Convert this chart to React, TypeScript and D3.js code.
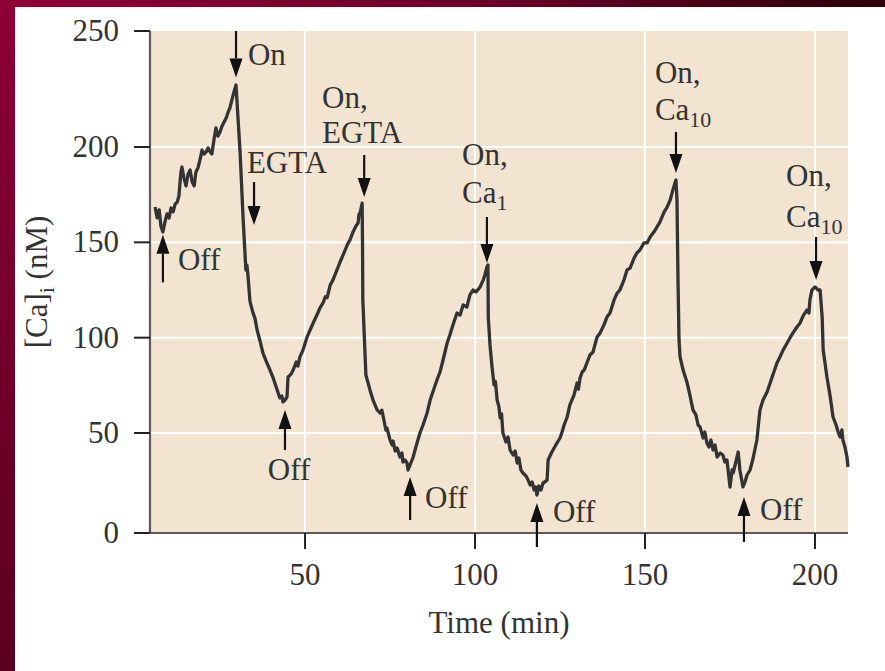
import React from 'react'
import * as d3 from 'd3'

// [Ca]i trace, time (min) / concentration (nM)
const cycleA: [number, number][] = [
  [5.9, 168.5], [6.5, 162.8], [7.1, 167.0], [7.6, 158.6], [8.2, 155.4], [8.8, 160.7], [9.4, 164.9],
  [10.0, 162.8], [10.6, 168.0], [11.2, 166.0], [11.8, 170.1], [12.4, 171.1], [12.9, 174.3], [13.5, 186.9],
  [13.8, 189.5], [14.4, 183.7], [15.0, 179.6], [15.6, 185.8], [16.2, 187.9], [16.8, 181.6], [17.4, 179.6],
  [17.9, 186.9], [18.5, 189.0], [19.1, 193.2], [19.7, 198.4], [20.3, 196.3], [20.9, 197.4], [21.5, 199.5],
  [22.1, 197.4], [22.6, 196.3], [23.2, 203.0], [23.8, 208.2], [24.4, 204.7], [25.0, 206.5], [25.6, 209.1],
  [26.2, 210.8], [26.8, 212.5], [27.4, 215.1], [27.9, 216.8], [28.5, 220.3], [29.1, 223.7], [29.7, 226.7],
]

const cycleB: [number, number][] = [
  [30.9, 197], [31.8, 162], [32.6, 135.5], [32.9, 138], [33.2, 133], [33.8, 119], [34.4, 115], [34.7, 113],
  [35.3, 110], [35.9, 104], [36.8, 98], [37.6, 92], [38.5, 88], [39.7, 83], [40.6, 79], [41.8, 72.6],
  [42.6, 68.4], [43.2, 69.4], [43.5, 66.3], [44.1, 67.3], [44.7, 68.9], [45.0, 79.4], [45.9, 80.9],
  [46.5, 83.0], [47.4, 87.2], [47.9, 85.1], [48.5, 89.9], [49.4, 93.5], [50.6, 100.4], [51.5, 104.0],
  [52.4, 107.7], [53.5, 111.9], [54.4, 115.6], [55.3, 118.2], [56.0, 121.5], [56.5, 121.0], [57.4, 127.6],
  [58.2, 130.2], [59.4, 135.5], [60.3, 139.7], [61.2, 143.4], [62.4, 148.6], [63.2, 151.2], [64.1, 155.4],
  [65.0, 158.6], [65.6, 160.1], [65.9, 164.9], [66.2, 165.4], [66.8, 170.6],
]

const cycleC: [number, number][] = [
  [66.9, 151], [67.0, 120], [67.6, 93.5], [67.9, 80.4], [69.1, 72.6], [70.0, 67.3], [71.2, 62.1],
  [72.1, 60.5], [72.6, 62], [73.2, 56.8], [73.8, 51.5], [74.1, 52.6], [75.0, 46.5], [75.6, 44], [75.9, 46],
  [76.5, 41], [77.1, 42.5], [77.9, 38], [78.5, 40], [78.8, 35.5], [79.4, 36.5], [80.0, 35], [80.3, 31.5],
  [80.9, 34], [81.8, 38], [82.6, 43], [83.8, 50], [84.7, 54.2], [85.9, 60.5], [86.8, 67.3], [87.6, 71.5],
  [88.8, 77.8], [89.7, 82.0], [90.6, 88.3], [91.8, 97.2], [92.6, 101.4], [93.5, 106.6], [94.7, 112.9],
  [95.6, 111.9], [96.5, 117.1], [97.6, 116.1], [98.5, 122.4], [99.4, 125.0], [100.3, 124.0], [101.5, 126.6],
  [102.4, 130.2], [102.9, 132.9], [103.5, 137.1], [103.8, 138.1],
]

const cycleD: [number, number][] = [
  [103.9, 110.8], [104.4, 96.2], [105.0, 84.6], [105.6, 75.2], [106.0, 77], [106.5, 67.3], [107.0, 64],
  [107.4, 57.9], [107.8, 60], [108.2, 50], [109.1, 45.5], [109.7, 48], [110.3, 41.5], [111.2, 39],
  [111.8, 41], [112.4, 35], [112.9, 37.5], [113.5, 31.5], [114.1, 30], [115.0, 28.5], [115.6, 26.5],
  [116.2, 24], [116.8, 25.5], [117.4, 21.5], [117.9, 23], [118.2, 19], [118.8, 23.5], [119.4, 21.5],
  [120.0, 25], [120.9, 26], [121.2, 26.5], [121.5, 36.5], [122.6, 40.5], [124.1, 45], [125.0, 47.5],
  [125.6, 50.5], [126.2, 54.2], [127.1, 58.4], [127.9, 64.7], [129.1, 69.9], [130.0, 76.2], [130.4, 73],
  [130.9, 78.8], [131.5, 82.0], [132.1, 83.0], [132.9, 86.7], [133.8, 90.9], [134.7, 92.5], [135.9, 100.4],
  [136.8, 102.5], [137.9, 106.6], [138.8, 110.8], [139.7, 112.9], [140.9, 119.8], [141.8, 123.4],
  [142.6, 125.0], [143.8, 130.2], [144.7, 135.5], [145.6, 136.5], [146.8, 141.8], [147.6, 144.4],
  [148.5, 146.0], [149.7, 149.7], [150.6, 149.7], [151.5, 152.8], [152.6, 155.4], [153.5, 158.0],
  [154.4, 160.7], [155.6, 165.9], [156.5, 168.5], [157.4, 172.2], [158.2, 177.5], [158.8, 181.1],
  [159.1, 182.7],
]

const cycleE: [number, number][] = [
  [159.4, 172.2], [159.7, 130.2], [160.0, 98.8], [160.3, 89.9], [161.2, 83.0], [162.4, 76.2], [163.2, 69.9],
  [164.1, 62.1], [165.0, 59.4], [165.6, 54.2], [166.2, 53.1], [167.1, 47.5], [167.6, 50.5], [168.2, 45],
  [168.8, 43], [169.4, 46.5], [170.0, 41.5], [170.6, 44], [171.2, 38], [172.1, 40], [172.9, 39],
  [173.5, 35.5], [174.1, 36.5], [175.0, 23], [175.6, 31.5], [175.9, 30], [176.5, 34], [177.4, 40.5],
  [177.9, 31.5], [178.8, 23], [179.4, 25.5], [180.0, 29], [180.9, 31.5], [181.8, 37.5], [182.9, 46.5],
  [183.8, 62.1], [184.7, 67.3], [185.9, 71.5], [186.8, 76.2], [187.6, 80.4], [188.8, 86.7], [189.7, 89.9],
  [190.6, 93.5], [191.8, 97.2], [192.6, 99.8], [193.5, 102.5], [194.7, 105.6], [195.6, 107.7],
  [196.5, 111.4], [197.6, 114.5], [198.2, 112.9], [198.5, 119.8], [199.1, 125.0], [200.0, 126.6],
  [200.9, 125.0], [201.5, 125.0], [202.1, 110.8], [202.4, 93.5], [202.9, 87.2], [203.5, 79.4],
  [204.4, 69.9], [205.3, 58.4], [206.2, 54.2], [206.8, 50.5], [207.4, 48], [207.9, 51.6], [208.2, 46.5],
  [208.8, 43], [209.4, 38], [209.7, 33],
]

const trace = [...cycleA, ...cycleB, ...cycleC, ...cycleD, ...cycleE]

const xTicks = [50, 100, 150, 200]
const yTicks = [0, 50, 100, 150, 200, 250]

// arrows: time, tail value, tip value
const arrows = [
  { t: 8.2, tail: 129, tip: 154 },
  { t: 29.7, tail: 250, tip: 230 },
  { t: 35.0, tail: 181.6, tip: 159.1 },
  { t: 67.4, tail: 195.8, tip: 173.8 },
  { t: 44.1, tail: 41.5, tip: 62.1 },
  { t: 103.5, tail: 163.3, tip: 139.2 },
  { t: 80.9, tail: 6.5, tip: 28 },
  { t: 118.2, tail: -7, tip: 15 },
  { t: 159.1, tail: 206.5, tip: 186.4 },
  { t: 179.1, tail: -4.5, tip: 18 },
  { t: 200.3, tail: 152.8, tip: 130.2 },
]

const labels = [
  { t: 12.6, v: 135.5, text: 'Off', sub: '', anchor: 'start' },
  { t: 33.2, v: 235.3, text: 'On', sub: '', anchor: 'start' },
  { t: 32.9, v: 186.4, text: 'EGTA', sub: '', anchor: 'start' },
  { t: 55.0, v: 216.8, text: 'On,', sub: '', anchor: 'start' },
  { t: 55.0, v: 201.7, text: 'EGTA', sub: '', anchor: 'start' },
  { t: 45.3, v: 26.5, text: 'Off', sub: '', anchor: 'middle' },
  { t: 96.2, v: 190.6, text: 'On,', sub: '', anchor: 'start' },
  { t: 96.2, v: 170.6, text: 'Ca', sub: '1', anchor: 'start' },
  { t: 85.3, v: 12.5, text: 'Off', sub: '', anchor: 'start' },
  { t: 122.9, v: 5.5, text: 'Off', sub: '', anchor: 'start' },
  { t: 152.9, v: 227.6, text: 'On,', sub: '', anchor: 'start' },
  { t: 152.9, v: 211.6, text: 'Ca', sub: '10', anchor: 'start' },
  { t: 183.8, v: 6.5, text: 'Off', sub: '', anchor: 'start' },
  { t: 191.5, v: 179.6, text: 'On,', sub: '', anchor: 'start' },
  { t: 191.5, v: 158.0, text: 'Ca', sub: '10', anchor: 'start' },
]

const W = 885
const H = 671
const left = 150
const right = 848
const top = 31
const bottom = 533
const font = '"Liberation Serif", "Times New Roman", serif'
const fs = 31
const ink = '#333'

export default function App() {
  const x = d3.scaleLinear().domain([4.4, 209.7]).range([left, right])
  // the original axis is not uniform above 200
  const y = d3.scaleLinear().domain([0, 50, 200, 250]).range([bottom, 433, 147, top])
  const line = d3.line<[number, number]>().x(d => x(d[0])).y(d => y(d[1]))

  const arrow = (a: { t: number; tail: number; tip: number }, i: number) => {
    const ax = x(a.t)
    const y1 = y(a.tail)
    const y2 = y(a.tip)
    const dir = y2 > y1 ? 1 : -1
    const head = 19
    const hw = 6.5
    return (
      <g key={i}>
        <line x1={ax} x2={ax} y1={y1} y2={y2 - dir * head} stroke="#111" strokeWidth={2.2} />
        <path d={`M${ax},${y2}L${ax - hw},${y2 - dir * head}L${ax + hw},${y2 - dir * head}Z`} fill="#111" />
      </g>
    )
  }

  return (
    <div style={{ position: 'absolute', left: 0, top: 0 }}>
      <svg width={W} height={H} style={{ display: 'block' }} fontFamily={font}>
        <defs>
          <linearGradient id="topBar" x1="0" x2="1" y1="0" y2="0">
            <stop offset="0" stopColor="#8e0034" />
            <stop offset="0.55" stopColor="#6a0026" />
            <stop offset="1" stopColor="#2a0009" />
          </linearGradient>
          <linearGradient id="leftBar" x1="0" x2="0" y1="0" y2="1">
            <stop offset="0" stopColor="#8e0034" />
            <stop offset="1" stopColor="#5a0020" />
          </linearGradient>
        </defs>
        <rect width={W} height={H} fill="#fff" />
        <rect x={0} y={0} width={15} height={H} fill="url(#leftBar)" />
        <rect x={0} y={0} width={W} height={7} fill="url(#topBar)" />

        <rect x={left} y={top} width={right - left} height={bottom - top} fill="#f2e4d0" />
        {xTicks.map(t => (
          <line key={'gx' + t} x1={x(t)} x2={x(t)} y1={top} y2={bottom} stroke="#fff" strokeWidth={2} />
        ))}
        {yTicks.filter(v => v > 0 && v < 250).map(v => (
          <line key={'gy' + v} x1={left} x2={right} y1={y(v)} y2={y(v)} stroke="#fff" strokeWidth={2} />
        ))}

        <path d={line(trace) || ''} fill="none" stroke="#333" strokeWidth={3.3} strokeLinejoin="round" />

        <line x1={left} x2={left} y1={top} y2={bottom} stroke="#5a5a5a" strokeWidth={2.2} />
        <line x1={left} x2={right} y1={bottom} y2={bottom} stroke="#5a5a5a" strokeWidth={2.2} />

        {yTicks.map(v => (
          <g key={'ty' + v}>
            <line x1={left - 16} x2={left} y1={y(v)} y2={y(v)} stroke="#222" strokeWidth={2} />
            <text x={left - 31} y={y(v) + 10} textAnchor="end" fontSize={fs} fill={ink}>{v}</text>
          </g>
        ))}
        {xTicks.map(t => (
          <g key={'tx' + t}>
            <line x1={x(t)} x2={x(t)} y1={bottom} y2={bottom + 16} stroke="#222" strokeWidth={2} />
            <text x={x(t)} y={585} textAnchor="middle" fontSize={fs} fill={ink}>{t}</text>
          </g>
        ))}

        <text x={(left + right) / 2} y={633} textAnchor="middle" fontSize={fs} fill={ink}>Time (min)</text>
        <text transform={`translate(47,${(top + bottom) / 2}) rotate(-90)`} textAnchor="middle" fontSize={fs} fill={ink}>
          <tspan>[Ca]</tspan>
          <tspan dy={7} fontSize={22}>i</tspan>
          <tspan dy={-7}> (nM)</tspan>
        </text>

        {arrows.map(arrow)}
        {labels.map((l, i) => (
          <text key={'l' + i} x={x(l.t)} y={y(l.v)} textAnchor={l.anchor} fontSize={fs} fill={ink}>
            <tspan>{l.text}</tspan>
            {l.sub ? <tspan dy={7} fontSize={22}>{l.sub}</tspan> : null}
          </text>
        ))}
      </svg>
    </div>
  )
}
